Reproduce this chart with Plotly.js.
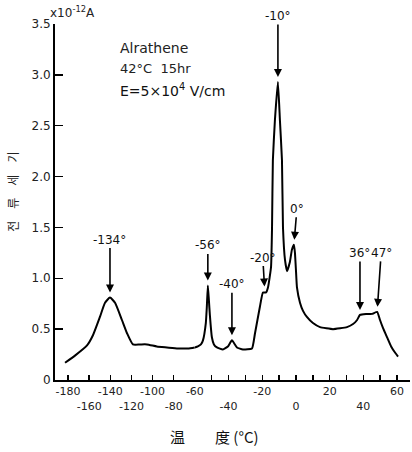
<!DOCTYPE html>
<html>
<head>
<meta charset="utf-8">
<script src="https://cdn.plot.ly/plotly-3.0.1.min.js"></script>
<style>html,body{margin:0;padding:0;background:#fff}#chart{width:412px;height:452px}</style>
</head>
<body>
<div id="chart"></div>
<script>
// Temperature (°C) and current (x10^-12 A) — low-temperature part (compressed scale)
const tempLow = [-182.8, -173.4, -162.0, -156.4, -149.8, -145.0, -140.3, -135.5, -129.0, -124.2, -118.6, -112.0, -105.3, -96.0, -86.4, -76.0, -66.6, -60.0];
const currLow = [0.17, 0.24, 0.34, 0.44, 0.62, 0.76, 0.81, 0.76, 0.59, 0.46, 0.35, 0.35, 0.35, 0.33, 0.32, 0.31, 0.31, 0.32];
// high-temperature part
const tempHigh = [-60.0, -58.2, -56.4, -55.2, -53.5, -52.9, -52.3, -51.7, -51.1, -49.9, -48.7, -46.9, -43.4, -40.4, -38.0, -35.0, -31.5, -26.1, -24.3, -21.4, -19.6, -17.8, -16.6, -14.8, -14.2, -13.7, -12.5, -10.7, -9.5, -8.3, -7.7, -6.5, -5.3, -3.6, -2.4, -1.2, -0.6, 0.0, 0.6, 2.4, 4.2, 6.5, 10.1, 14.3, 22.0, 30.3, 33.9, 36.3, 38.0, 41.6, 45.2, 48.2, 49.9, 51.7, 54.1, 56.5, 58.8, 60.6];
const currHigh = [0.32, 0.33, 0.35, 0.39, 0.56, 0.72, 0.93, 0.79, 0.64, 0.42, 0.35, 0.32, 0.30, 0.33, 0.39, 0.32, 0.30, 0.31, 0.46, 0.72, 0.86, 0.86, 0.91, 1.11, 1.50, 2.16, 2.55, 2.93, 2.55, 2.16, 1.50, 1.18, 1.07, 1.16, 1.28, 1.33, 1.25, 1.08, 0.91, 0.76, 0.68, 0.62, 0.56, 0.52, 0.50, 0.52, 0.55, 0.59, 0.64, 0.65, 0.65, 0.67, 0.59, 0.51, 0.42, 0.33, 0.27, 0.23];

// tick labels
const xTickLowVals = [-180, -160, -140, -120, -100, -80];
const xTickLowText = ["-180", "<br>-160", "-140", "<br>-120", "-100", "<br>-80"];
const xTickHighVals = [-60, -40, -20, 0, 20, 40, 60];
const xTickHighText = ["-60", "<br>-40", "-20", "<br>0", "20", "<br>40", "60"];
const yTickVals = [0, 0.5, 1.0, 1.5, 2.0, 2.5, 3.0, 3.5];
const yTickText = ["0", "0.5", "1.0", "1.5", "2.0", "2.5", "3.0", "3.5"];

// peak labels
const peakLabels = ["-134°", "-56°", "-40°", "-20°", "-10°", "0°", "36°", "47°"];
const peakT = [-140.3, -52.3, -38.0, -18.5, -10.7, -1.2, 38.0, 48.2];
const peakI = [0.81, 0.93, 0.39, 0.87, 2.93, 1.33, 0.64, 0.67];

const FONT = "DejaVu Sans, sans-serif";
const lineStyle = {color: "#000", width: 2, shape: "spline", smoothing: 0.5};

const traces = [
  {x: tempLow, y: currLow, xaxis: "x", yaxis: "y", mode: "lines", line: lineStyle, hoverinfo: "skip"},
  {x: tempHigh, y: currHigh, xaxis: "x2", yaxis: "y", mode: "lines", line: {color: "#000", width: 2, shape: "spline", smoothing: 0.4}, hoverinfo: "skip"}
];

const arrowOffsets = [[0, -58], [0, -40], [0, -56], [-2, -34], [0, -66], [3, -36], [0, -62], [4, -59]];
const annotations = peakLabels.map((t, i) => ({
  x: peakT[i], y: peakI[i], xref: i === 0 ? "x" : "x2", yref: "y",
  text: t, showarrow: true, arrowhead: 2, arrowsize: 1, arrowwidth: 1.6, arrowcolor: "#000",
  ax: arrowOffsets[i][0], ay: arrowOffsets[i][1], standoff: 5,
  font: {family: FONT, size: 12, color: "#111"}
}));

annotations.push(
  {xref: "paper", yref: "paper", x: 0.177, y: 0.933, xanchor: "left", yanchor: "middle", showarrow: false,
   text: "Alrathene", font: {family: FONT, size: 14, color: "#222"}},
  {xref: "paper", yref: "paper", x: 0.177, y: 0.876, xanchor: "left", yanchor: "middle", showarrow: false,
   text: "42°C  15hr", font: {family: FONT, size: 13, color: "#222"}},
  {xref: "paper", yref: "paper", x: 0.177, y: 0.815, xanchor: "left", yanchor: "middle", showarrow: false,
   text: "E=5×10<sup>4</sup> V/cm", font: {family: FONT, size: 14, color: "#111"}},
  {xref: "paper", yref: "paper", x: 0.05, y: 1.035, xanchor: "center", yanchor: "middle", showarrow: false,
   text: "x10<sup>-12</sup>A", font: {family: FONT, size: 12, color: "#222"}},
  {xref: "paper", yref: "paper", x: 0.45, y: -0.16, xanchor: "center", yanchor: "middle", showarrow: false,
   text: "温　　度 (°C)", font: {family: "Noto Sans CJK SC, sans-serif", size: 15, color: "#111"}},
  {xref: "paper", yref: "paper", x: -0.12, y: 0.53, xanchor: "center", yanchor: "middle", showarrow: false,
   textangle: -90, text: "전　류　세　기", font: {family: "Noto Sans CJK KR, sans-serif", size: 12, color: "#222"}}
);

const axisCommon = {
  showline: true, linecolor: "#000", linewidth: 2, showgrid: false, zeroline: false,
  ticks: "inside", ticklen: 5, tickwidth: 1.5, tickcolor: "#000", tickangle: 0,
  tickfont: {family: FONT, size: 11, color: "#222"}, tickmode: "array", fixedrange: true
};

const layout = {
  width: 412, height: 452,
  margin: {l: 55, r: 2, t: 24, b: 72},
  paper_bgcolor: "#fff", plot_bgcolor: "#fff",
  showlegend: false,
  xaxis: Object.assign({}, axisCommon, {domain: [0, 0.394], range: [-192.3, -60], tickvals: xTickLowVals, ticktext: xTickLowText, anchor: "y"}),
  xaxis2: Object.assign({}, axisCommon, {domain: [0.394, 1], range: [-60, 67.7], tickvals: xTickHighVals, ticktext: xTickHighText, anchor: "y",
    minor: {ticks: "inside", tickmode: "linear", tick0: 0, dtick: 10, ticklen: 5, tickwidth: 1.5, tickcolor: "#000"}}),
  yaxis: Object.assign({}, axisCommon, {range: [0, 3.5], tickvals: yTickVals, ticktext: yTickText, ticklen: 8, tickfont: {family: FONT, size: 12, color: "#222"}, anchor: "x"}),
  annotations: annotations
};

Plotly.newPlot("chart", traces, layout, {staticPlot: true, displayModeBar: false});
</script>
</body>
</html>
